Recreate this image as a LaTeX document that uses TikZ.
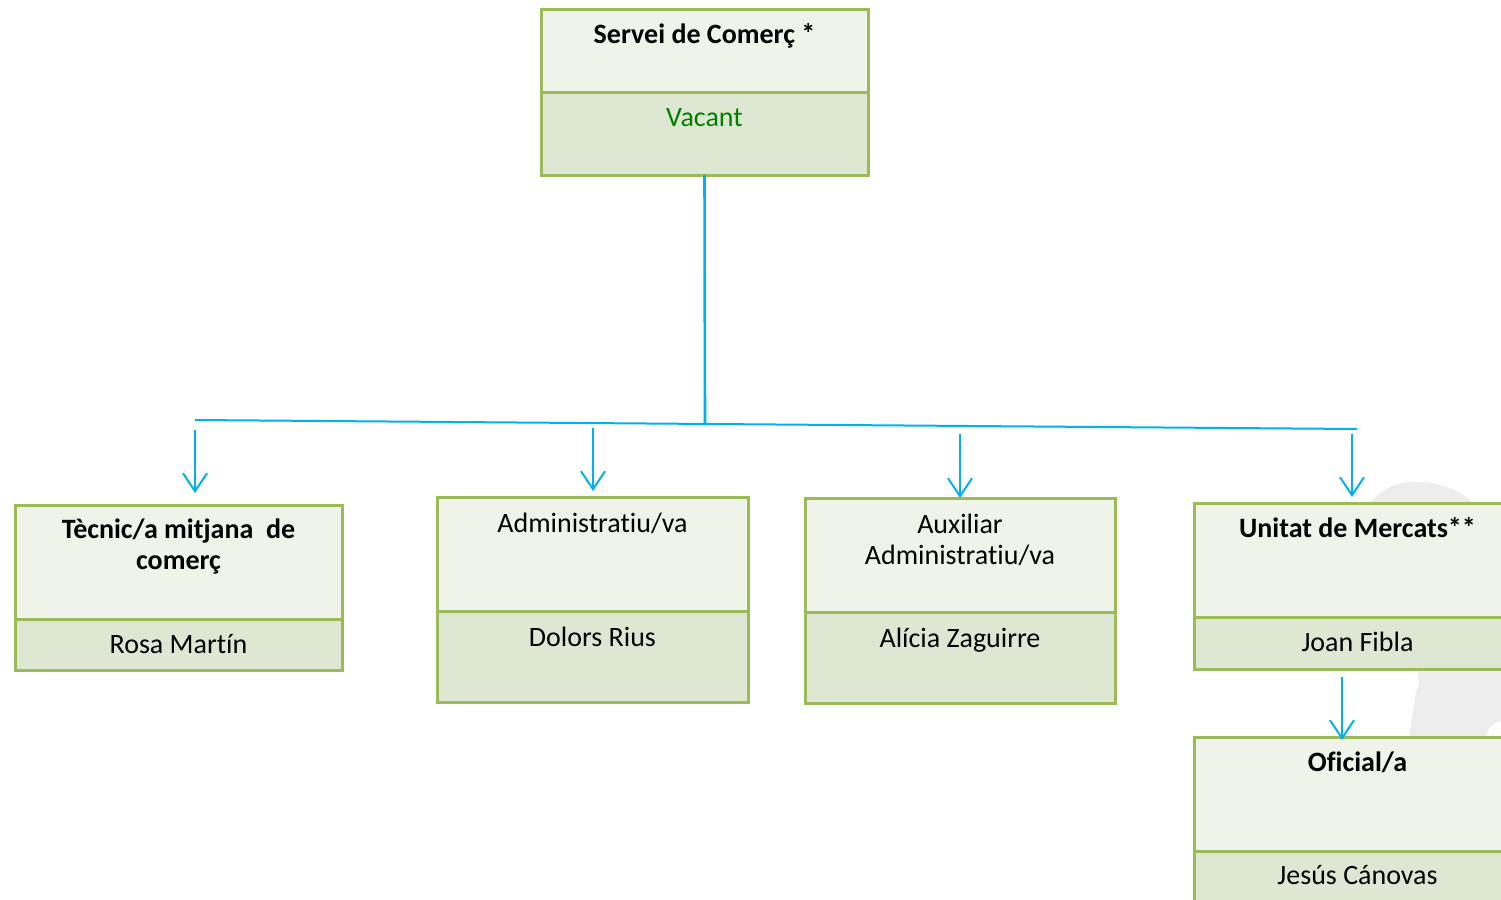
\documentclass[tikz,border=0pt]{standalone}
\usepackage{fontspec}
\setmainfont{Carlito}[Ligatures=NoCommon]
\usepackage{tikz}
\usetikzlibrary{arrows.meta,calc,positioning}
\definecolor{boxline}{HTML}{9BBB59}
\definecolor{postfill}{HTML}{EFF3EA}
\definecolor{holderfill}{HTML}{DEE7D1}
\definecolor{linkblue}{HTML}{00B0F0}
\definecolor{vacantgreen}{HTML}{008000}
\definecolor{blobgrey}{HTML}{EDEDED}
\tikzset{
	org chart/.style={x=.5pt, y=-.5pt, font=\fontsize{14}{15.5}\selectfont},
	post/.style 2 args={draw=boxline, fill=postfill, line width=1.5pt,
		minimum width=#1, minimum height=#2, inner sep=0pt, outer sep=0pt},
	holder/.style 2 args={post={#1}{#2}, fill=holderfill},
	person/.style={align=center, inner sep=0pt, text height=10pt},
	heading/.style={person, font=\fontsize{14}{15.5}\selectfont\bfseries},
	link/.style={draw=linkblue, line width=1pt},
	ar/.style={link, -{Straight Barb[length=9pt,width=12pt]}},
}

\begin{document}
\begin{tikzpicture}[org chart]
	\useasboundingbox (0,0) rectangle (1501,900);
	% faded picture behind the last column
	\fill[blobgrey] (1367,505) .. controls (1385,486) and (1398,482) .. (1415,482)
		.. controls (1440,482) and (1462,490) .. (1475,505) -- (1510,505) -- (1510,720)
		.. controls (1494,720) and (1487,728) .. (1486,737) -- (1409,737) -- (1416,692)
		-- (1419,684) -- (1417,670) -- cycle;

	\node[post={163.5pt}{41.5pt}, anchor=north west] (S) at (541,9) {};
	\node[holder={163.5pt}{41.5pt}, below=0pt of S] (S_h) {};
	\node[post={163.5pt}{57pt}, anchor=north west] (T) at (15,505) {};
	\node[holder={163.5pt}{25.5pt}, below=0pt of T] (T_h) {};
	\node[post={155.5pt}{57pt}, anchor=north west] (A) at (437,497) {};
	\node[holder={155.5pt}{45.5pt}, below=0pt of A] (A_h) {};
	\node[post={155pt}{57pt}, anchor=north west] (X) at (805,498) {};
	\node[holder={155pt}{45.5pt}, below=0pt of X] (X_h) {};
	\node[post={163.5pt}{57pt}, anchor=north west] (U) at (1194,503) {};
	\node[holder={163.5pt}{26pt}, below=0pt of U] (U_h) {};
	\node[post={163.5pt}{57pt}, below=34pt of U_h] (O) {};
	\node[holder={163.5pt}{26pt}, below=0pt of O] (O_h) {};

	% two-line texts sit one line (15.5pt) lower
	\node[heading, below=7pt of S.north] (S_t) {Servei de Comerç *};
	\node[person, text=vacantgreen, below=7pt of S_h.north] (S_n) {Vacant};
	\node[heading, below=22pt of T.north] (T_t) {Tècnic/a mitjana\ \ de\\comerç};
	\node[person, below=7pt of T_h.north] (T_n) {Rosa Martín};
	\node[person, below=7.5pt of A.north] (A_t) {Administratiu/va};
	\node[person, below=7.5pt of A_h.north] (A_n) {Dolors Rius};
	\node[person, below=23pt of X.north] (X_t) {Auxiliar\\Administratiu/va};
	\node[person, below=7.5pt of X_h.north] (X_n) {Alícia Zaguirre};
	\node[heading, below=7pt of U.north] (U_t) {Unitat de Mercats**};
	\node[person, below=7pt of U_h.north] (U_n) {Joan Fibla};
	\node[heading, below=7pt of O.north] (O_t) {Oficial/a};
	\node[person, below=6.5pt of O_h.north] (O_n) {Jesús Cánovas};

	\coordinate (busL) at (195,420);
	\coordinate (busM) at (705,425);
	\coordinate (busR) at (1357,429);
	\draw[link, line width=1.3pt] (S_h.south) -- (busM);
	\draw[link] (busL) -- (busR);
	\coordinate (T_in) at (195,430);
	\coordinate (A_in) at (593,428);
	\coordinate (X_in) at (960,434);
	\coordinate (U_in) at (1352,434);
	\coordinate (O_in) at (1342,677);
	\draw[ar, shorten >=6pt] (T_in) -- (T_in |- T.north);
	\draw[ar, shorten >=3pt] (A_in) -- (A_in |- A.north);
	\draw[ar] (X_in) -- (X_in |- X.north);
	\draw[ar, shorten >=3pt] (U_in) -- (U_in |- U.north);
	\draw[ar, shorten >=-1.5pt] (O_in) -- (O_in |- O.north);
\end{tikzpicture}
\end{document}
